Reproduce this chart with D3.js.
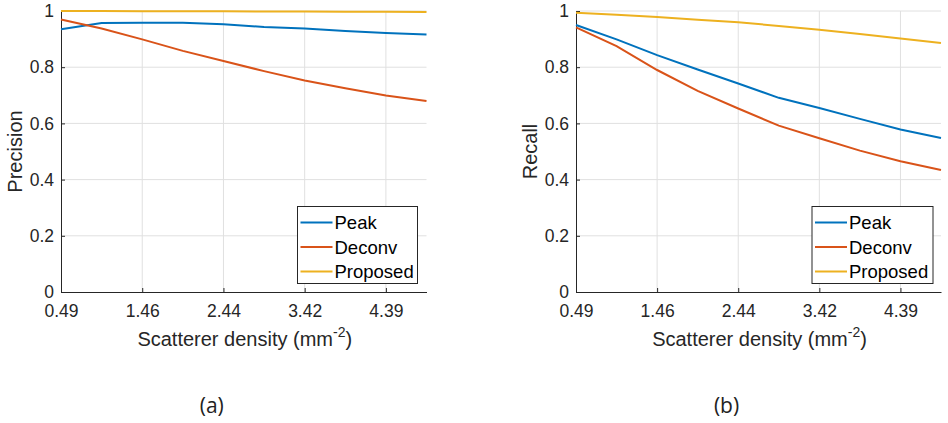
<!DOCTYPE html>
<html><head><meta charset="utf-8">
<script src="https://cdn.jsdelivr.net/npm/d3@7/dist/d3.min.js"></script>
<style>body{margin:0;background:#fff}svg{display:block}</style>
</head><body>
<svg id="c" width="948" height="423"></svg>
<script>
const density = [0.488, 0.976, 1.464, 1.952, 2.44, 2.928, 3.416, 3.904, 4.392, 4.88];
const xTicks = [0.488, 1.464, 2.44, 3.416, 4.392];
const xTickLabels = ["0.49", "1.46", "2.44", "3.42", "4.39"];
const yTicks = [0, 0.2, 0.4, 0.6, 0.8, 1];
const seriesNames = ["Peak", "Deconv", "Proposed"];
const seriesColors = ["#0072BD", "#D95319", "#EDB120"];
const precisionPeak = [0.935, 0.957, 0.958, 0.958, 0.953, 0.943, 0.938, 0.929, 0.922, 0.916];
const precisionDeconv = [0.970, 0.938, 0.899, 0.858, 0.822, 0.786, 0.753, 0.725, 0.699, 0.680];
const precisionProposed = [1.0, 1.0, 0.999, 0.999, 0.999, 0.998, 0.998, 0.997, 0.997, 0.996];
const recallPeak = [0.950, 0.899, 0.843, 0.792, 0.742, 0.691, 0.655, 0.616, 0.578, 0.548];
const recallDeconv = [0.942, 0.875, 0.790, 0.716, 0.653, 0.592, 0.547, 0.503, 0.465, 0.434];
const recallProposed = [0.994, 0.987, 0.979, 0.969, 0.960, 0.947, 0.933, 0.918, 0.902, 0.886];

const svg = d3.select("#c");
const font = "'Liberation Sans', Arial, sans-serif";

function panel(opts) {
  const {left, right, top, bottom, ylabel, ylabelX, data, caption, legend} = opts;
  const x = d3.scaleLinear().domain([0.488, 4.88]).range([left, right]);
  const y = d3.scaleLinear().domain([0, 1]).range([bottom, top]);
  const g = svg.append("g");
  // grid
  g.selectAll(".gx").data(xTicks.slice(1)).enter().append("line")
    .attr("x1", d => x(d)).attr("x2", d => x(d)).attr("y1", top).attr("y2", bottom)
    .attr("stroke", "#e0e0e0").attr("stroke-width", 1);
  g.selectAll(".gy").data(yTicks.slice(1)).enter().append("line")
    .attr("x1", left).attr("x2", right).attr("y1", d => y(d)).attr("y2", d => y(d))
    .attr("stroke", "#e0e0e0").attr("stroke-width", 1);
  // axes
  const xa = g.append("g").attr("transform", `translate(0,${bottom})`)
    .call(d3.axisBottom(x).tickValues(xTicks).tickFormat((d, i) => xTickLabels[i]).tickSizeInner(-4).tickSizeOuter(0).tickPadding(13));
  const ya = g.append("g").attr("transform", `translate(${left},0)`)
    .call(d3.axisLeft(y).tickValues(yTicks).tickFormat(d3.format("")).tickSizeInner(-4).tickSizeOuter(0).tickPadding(7));
  [xa, ya].forEach(a => {
    a.select(".domain").attr("stroke", "#262626").attr("stroke-width", 1);
    a.selectAll(".tick line").attr("stroke", "#262626");
    a.selectAll("text").attr("font-family", font).attr("font-size", 17.5).attr("fill", "#262626");
  });
  xa.selectAll("text").attr("dy", "0.71em");
  // lines
  const line = d3.line().x((d, i) => x(density[i])).y(d => y(d));
  data.forEach((s, k) => {
    g.append("path").datum(s).attr("d", line).attr("fill", "none")
      .attr("stroke", seriesColors[k]).attr("stroke-width", 2);
  });
  // labels
  const xl = g.append("text").attr("x", (left + right) / 2 + 1).attr("y", 346)
    .attr("text-anchor", "middle").attr("font-family", font).attr("font-size", 20).attr("fill", "#262626");
  xl.append("tspan").text("Scatterer density (mm");
  xl.append("tspan").attr("dy", -9).attr("font-size", 14).text("-2");
  xl.append("tspan").attr("dy", 9).text(")");
  g.append("text").attr("transform", `translate(${ylabelX},${(top + bottom) / 2}) rotate(-90)`)
    .attr("text-anchor", "middle").attr("font-family", font).attr("font-size", 20).attr("fill", "#262626").text(ylabel);
  g.append("text").attr("x", (left + right) / 2 - 32).attr("y", 413).attr("text-anchor", "middle")
    .attr("font-family", "'Open Sans', sans-serif").attr("font-size", 21).attr("fill", "#222").text(caption);
  // legend
  const lg = g.append("g");
  lg.append("rect").attr("x", legend.x).attr("y", legend.y).attr("width", legend.w).attr("height", 77)
    .attr("fill", "#fff").attr("stroke", "#262626").attr("stroke-width", 1);
  seriesNames.forEach((n, k) => {
    const yy = legend.y + 16 + k * 24.5;
    lg.append("line").attr("x1", legend.x + 3).attr("x2", legend.x + 35).attr("y1", yy).attr("y2", yy)
      .attr("stroke", seriesColors[k]).attr("stroke-width", 2);
    lg.append("text").attr("x", legend.x + 37).attr("y", yy).attr("dy", "0.36em")
      .attr("font-family", font).attr("font-size", 18.5).attr("fill", "#000").text(n);
  });
}

panel({left: 61, right: 426.5, top: 11, bottom: 292, ylabel: "Precision", ylabelX: 22,
  data: [precisionPeak, precisionDeconv, precisionProposed], caption: "(a)",
  legend: {x: 297.5, y: 206.5, w: 120}});
panel({left: 576, right: 941, top: 11, bottom: 292, ylabel: "Recall", ylabelX: 537,
  data: [recallPeak, recallDeconv, recallProposed], caption: "(b)",
  legend: {x: 812, y: 206.5, w: 121}});
</script>
</body></html>
